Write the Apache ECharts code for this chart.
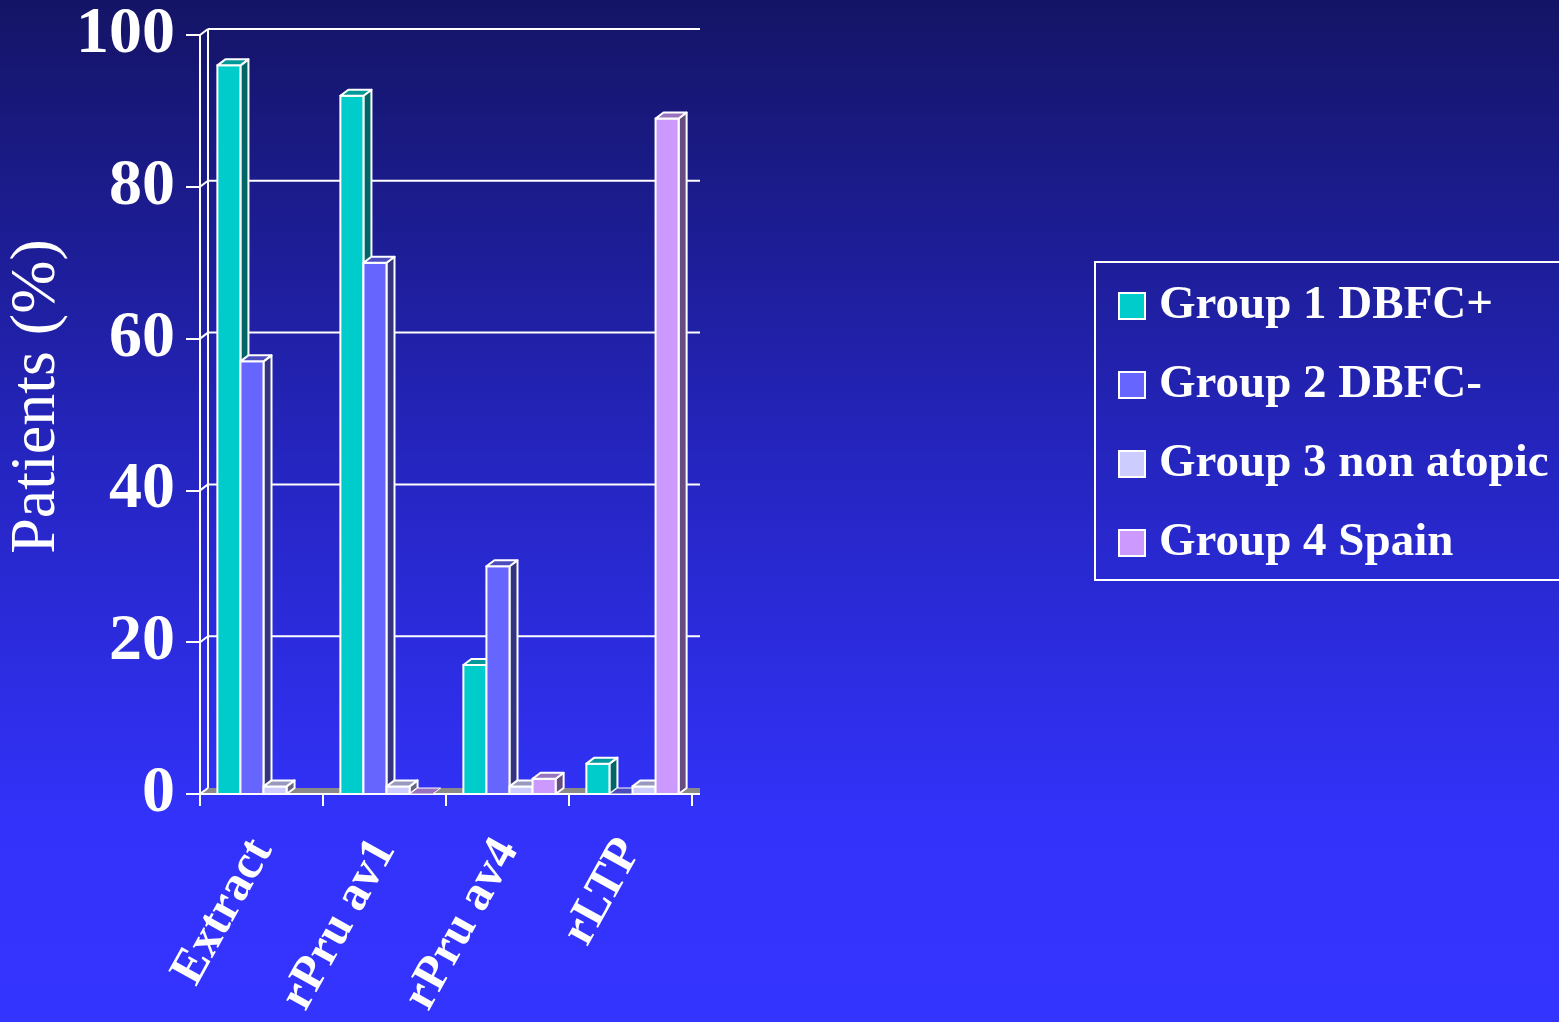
<!DOCTYPE html>
<html>
<head>
<meta charset="utf-8">
<script src="https://cdn.jsdelivr.net/npm/echarts@6/dist/echarts.min.js"></script>
<style>
  html, body { margin: 0; padding: 0; width: 100%; height: 100%; overflow: hidden; }
  #chart { width: 1559px; height: 1022px; }
</style>
</head>
<body>
<div id="chart"></div>
<script>
// Sensitisation to peach allergens, per patient group
const categories = ['Extract', 'rPru av1', 'rPru av4', 'rLTP'];
const group1 = [96, 92, 17, 4];     // Group 1 DBFC+
const group2 = [57, 70, 30, 0];     // Group 2 DBFC-
const group3 = [1, 1, 1, 1];        // Group 3 non atopic
const group4 = [null, 0, 2, 89];    // Group 4 Spain
const seriesNames = ['Group 1 DBFC+', 'Group 2 DBFC-', 'Group 3 non atopic', 'Group 4 Spain'];
const yTicks = [0, 20, 40, 60, 80, 100];

// face colours: front / top / side for each group
const palette = [
  { front: '#00CCCC', top: '#009999', side: '#006666' },
  { front: '#6666FF', top: '#4C4CBF', side: '#333380' },
  { front: '#CCCCFF', top: '#9999BF', side: '#666680' },
  { front: '#CC99FF', top: '#9973BF', side: '#664C80' }
];

// depth of the 3D extrusion in pixels
const DX = 8, DY = -6;
const BAR_SHARE = 0.1875;   // width of one bar as a share of the category band
const BAR_SHIFT = 2;        // small rightward nudge of each cluster
const FONT = '"Liberation Serif", "Times New Roman", serif';

const chart = echarts.init(document.getElementById('chart'), null, { renderer: 'canvas' });

function barRenderer(s) {
  return function (params, api) {
    const ci = api.value(0);
    const v = api.value(1);
    if (v == null || isNaN(v)) return null;
    const band = api.size([1, 0])[0];
    const barW = band * BAR_SHARE;
    const base = api.coord([ci, 0]);
    const top = api.coord([ci, v]);
    const x0 = base[0] - 2 * barW + s * barW + BAR_SHIFT;
    const x1 = x0 + barW;
    const yb = base[1];
    const yt = top[1];
    const c = palette[s];
    const edge = { stroke: '#FFFFFF', lineWidth: 2, lineJoin: 'round' };
    const children = [];
    if (yb - yt > 0.5) {
      children.push({
        type: 'polygon',
        shape: { points: [[x1, yt], [x1 + DX, yt + DY], [x1 + DX, yb + DY], [x1, yb]] },
        style: Object.assign({ fill: c.side }, edge)
      });
      children.push({
        type: 'rect',
        shape: { x: x0, y: yt, width: barW, height: yb - yt },
        style: Object.assign({ fill: c.front }, edge)
      });
    }
    children.push({
      type: 'polygon',
      shape: { points: [[x0, yt], [x0 + DX, yt + DY], [x1 + DX, yt + DY], [x1, yt]] },
      style: Object.assign({ fill: c.top }, edge, { lineWidth: yb - yt > 0.5 ? 2 : 1 })
    });
    return { type: 'group', children: children };
  };
}

// floor, back-wall grid lines and left-wall edges
function frameRenderer(params, api) {
  const cs = params.coordSys;
  const x = cs.x, w = cs.width;
  const yb = api.coord([0, 0])[1];
  const yTop = api.coord([0, yTicks[yTicks.length - 1]])[1];
  const white = { stroke: '#FFFFFF', lineWidth: 2 };
  const children = [{
    type: 'polygon',
    shape: { points: [[x, yb], [x + DX, yb + DY], [x + w + DX, yb + DY], [x + w + DX, yb]] },
    style: { fill: '#8A8A8A' }
  }];
  yTicks.forEach(function (t) {
    const y = api.coord([0, t])[1];
    if (t > 0) {
      children.push({
        type: 'line',
        shape: { x1: x + DX, y1: y + DY, x2: x + w + DX, y2: y + DY },
        style: white
      });
    }
    children.push({
      type: 'line',
      shape: { x1: x, y1: y, x2: x + DX, y2: y + DY },
      style: white
    });
  });
  children.push({
    type: 'line',
    shape: { x1: x + DX, y1: yTop + DY, x2: x + DX, y2: yb + DY },
    style: white
  });
  // front floor edge runs under the whole depth of the floor
  children.push({
    type: 'line',
    shape: { x1: x, y1: yb, x2: x + w + DX, y2: yb },
    style: white
  });
  return { type: 'group', children: children };
}

const groups = [group1, group2, group3, group4];

const series = [{
  type: 'custom',
  name: 'frame',
  z: 1,
  silent: true,
  renderItem: frameRenderer,
  data: [[0, 0]]
}];
groups.forEach(function (vals, s) {
  series.push({
    type: 'custom',
    name: seriesNames[s],
    z: 3 + s,
    itemStyle: { color: palette[s].front },
    renderItem: barRenderer(s),
    data: categories.map(function (c, i) { return [i, vals[i]]; })
  });
});

const option = {
  animation: false,
  backgroundColor: {
    type: 'linear', x: 0, y: 0, x2: 0, y2: 1,
    colorStops: [
      { offset: 0, color: '#141466' },
      { offset: 0.45, color: '#2525C0' },
      { offset: 0.8, color: '#3232FA' },
      { offset: 1, color: '#3434FF' }
    ]
  },
  grid: { left: 200, top: 35, width: 492, height: 759 },
  legend: {
    orient: 'vertical',
    left: 1095,
    top: 262,
    padding: [19, 40, 12, 23],
    borderColor: '#FFFFFF',
    borderWidth: 2,
    itemWidth: 26,
    itemHeight: 26,
    itemGap: 29,
    icon: 'rect',
    textStyle: {
      color: '#FFFFFF',
      fontFamily: FONT,
      fontWeight: 'bold',
      fontSize: 47,
      lineHeight: 50,
      padding: [0, 0, 0, 9]
    },
    data: seriesNames.map(function (n, s) {
      return { name: n, itemStyle: { color: palette[s].front, borderColor: '#FFFFFF', borderWidth: 2 } };
    })
  },
  xAxis: {
    type: 'category',
    data: categories,
    axisLine: { show: true, lineStyle: { color: '#FFFFFF', width: 2 } },
    axisTick: { show: true, length: 12, lineStyle: { color: '#FFFFFF', width: 2 } },
    axisLabel: {
      rotate: 61,
      margin: 49,
      color: '#FFFFFF',
      fontFamily: FONT,
      fontWeight: 'bold',
      fontSize: 49
    },
    splitLine: { show: false }
  },
  yAxis: {
    type: 'value',
    min: 0,
    max: 100,
    interval: 20,
    name: 'Patients (%)',
    nameLocation: 'middle',
    nameRotate: 90,
    nameGap: 131,
    nameTextStyle: { color: '#FFFFFF', fontFamily: FONT, fontSize: 64, padding: [0, 0, 0, 36] },
    axisLine: { show: true, lineStyle: { color: '#FFFFFF', width: 2 } },
    axisTick: { show: true, length: 14, lineStyle: { color: '#FFFFFF', width: 2 } },
    axisLabel: {
      margin: 25,
      color: '#FFFFFF',
      fontFamily: FONT,
      fontWeight: 'bold',
      fontSize: 66
    },
    splitLine: { show: false }
  },
  series: series
};

chart.setOption(option);
</script>
</body>
</html>
